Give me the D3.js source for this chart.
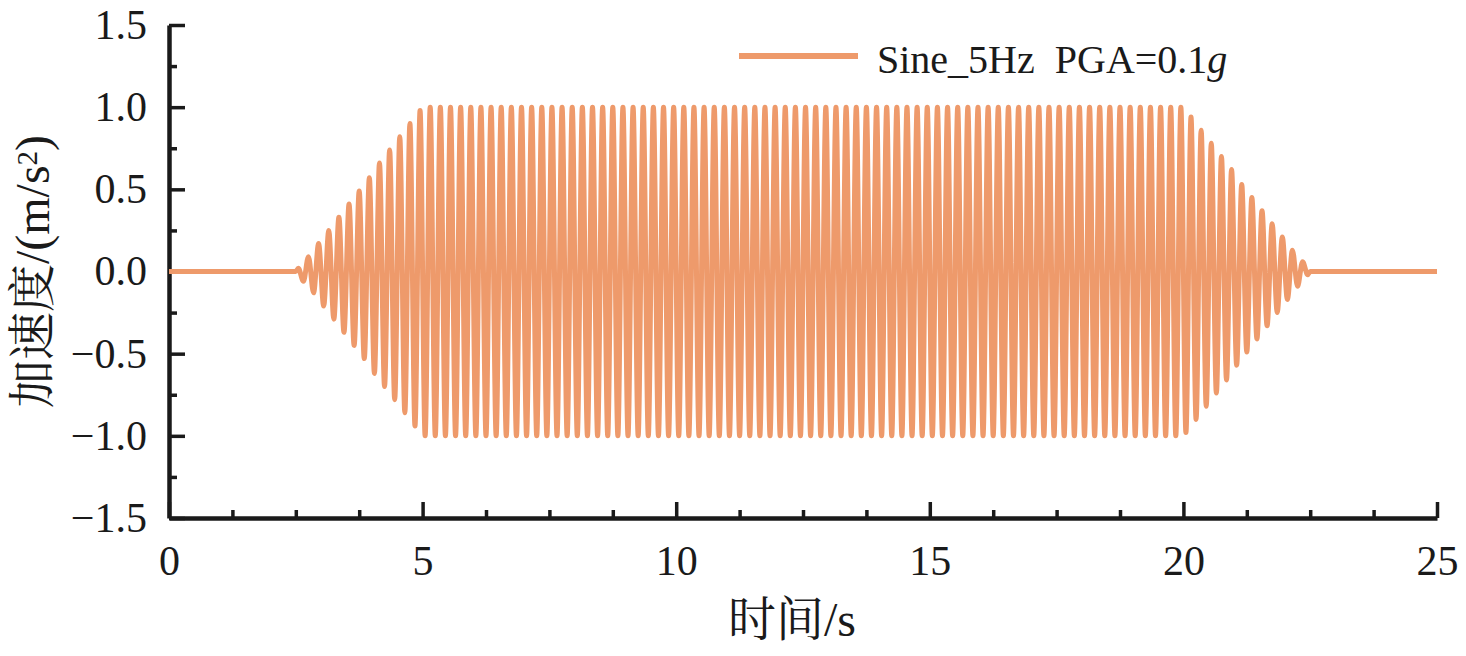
<!DOCTYPE html>
<meta charset="utf-8">
<style>
body { margin: 0; background: #fff; }
svg text { font-family: "Liberation Serif", "Noto Serif CJK SC", "Noto Sans CJK SC", serif; fill: #1a1a1a; }
.axis path, .axis line { stroke: #1a1a1a; }
</style>
<body>
<script src="https://d3js.org/d3.v7.min.js"></script>
<script>

// tick values
var xTicks = [0, 5, 10, 15, 20, 25];
var xMinor = [1.25, 2.5, 3.75, 6.25, 7.5, 8.75, 11.25, 12.5, 13.75, 16.25, 17.5, 18.75, 21.25, 22.5, 23.75];
var yTicks = [-1.5, -1.0, -0.5, 0.0, 0.5, 1.0, 1.5];
var yMinor = [-1.25, -0.75, -0.25, 0.25, 0.75, 1.25];

// signal: quiet, 5 Hz sine 2.5 s - 22.5 s, quiet
var quietBefore = [[0, 0], [2.5, 0]];
var quietAfter = [[22.5, 0], [25, 0]];
var firstPeakTime = 2.55;  // s
var halfPeriod = 0.1;      // s (5 Hz)
// successive extremes (2.5 s - 5 s)
var rampUp = [0.02, -0.06, 0.09, -0.13, 0.17, -0.21, 0.25, -0.29, 0.33, -0.37, 0.41, -0.45,
              0.49, -0.53, 0.57, -0.62, 0.66, -0.70, 0.74, -0.78, 0.82, -0.86, 0.90, -0.94, 0.98];
// steady part 5 s - 20 s
var plateauAmp = 1.0;
var plateauHalfCycles = 150;
// successive extremes (20 s - 22.5 s)
var rampDown = [-0.98, 0.94, -0.90, 0.86, -0.82, 0.78, -0.74, 0.70, -0.66, 0.62, -0.57, 0.53,
                -0.49, 0.45, -0.41, 0.37, -0.33, 0.29, -0.25, 0.21, -0.17, 0.13, -0.09, 0.06, -0.02];

var legendLabel = "Sine_5Hz  PGA=0.1";
var lineColor = "#ee9a6b";

var W = 1466, H = 656;
var margin = {top: 25, right: 29, bottom: 138, left: 169},
    width = W - margin.left - margin.right,
    height = H - margin.top - margin.bottom;

var x = d3.scaleLinear().domain([0, 25]).range([0, width]);
var y = d3.scaleLinear().domain([-1.5, 1.5]).range([height, 0]);

var svg = d3.select("body").append("svg")
    .attr("width", W)
    .attr("height", H)
  .append("g")
    .attr("transform", "translate(" + margin.left + "," + margin.top + ")");

// minor ticks
svg.append("g")
    .attr("class", "axis")
    .attr("transform", "translate(0," + height + ")")
    .call(d3.axisBottom(x).tickValues(xMinor).tickSize(-8).tickFormat(""))
    .call(function(g) { g.select(".domain").remove(); })
    .selectAll("line").attr("stroke-width", 3.5);
svg.append("g")
    .attr("class", "axis")
    .call(d3.axisLeft(y).tickValues(yMinor).tickSize(-8).tickFormat(""))
    .call(function(g) { g.select(".domain").remove(); })
    .selectAll("line").attr("stroke-width", 3.5);

// major axes
var xAxis = svg.append("g")
    .attr("class", "axis")
    .attr("transform", "translate(0," + height + ")")
    .call(d3.axisBottom(x).tickValues(xTicks).tickSize(-16).tickSizeOuter(0).tickPadding(27).tickFormat(d3.format("d")));
xAxis.select(".domain").attr("stroke-width", 4.5);
xAxis.selectAll("line").attr("stroke-width", 3.5);
xAxis.selectAll("text").style("font-size", "42px");

var yAxis = svg.append("g")
    .attr("class", "axis")
    .call(d3.axisLeft(y).tickValues(yTicks).tickSize(-16).tickSizeOuter(0).tickPadding(22).tickFormat(d3.format(".1f")));
yAxis.select(".domain").attr("stroke-width", 4.5);
yAxis.selectAll("line").attr("stroke-width", 3.5);
yAxis.selectAll("text").style("font-size", "42px");

// build the extremes list
var extremes = rampUp.slice();
for (var i = 0; i < plateauHalfCycles; i++) {
  extremes.push(i % 2 == 0 ? -plateauAmp : plateauAmp);
}
extremes = extremes.concat(rampDown);

var pts = quietBefore.slice();
extremes.forEach(function(v, i) { pts.push([firstPeakTime + i * halfPeriod, v]); });
pts = pts.concat(quietAfter);

var line = d3.line()
    .x(function(d) { return x(d[0]); })
    .y(function(d) { return y(d[1]); })
    .curve(d3.curveMonotoneX);

// signal drawn over the axes
svg.append("path")
    .datum(pts)
    .attr("fill", "none")
    .attr("stroke", lineColor)
    .attr("stroke-width", 5)
    .attr("stroke-linejoin", "round")
    .attr("d", line);

// axis titles
svg.append("text")
    .attr("x", 623)
    .attr("y", 611)
    .attr("text-anchor", "middle")
    .style("font-size", "48px")
    .text("时间/s");

var yt = svg.append("text")
    .attr("transform", "translate(-120," + y(0) + ") rotate(-90)")
    .attr("text-anchor", "middle")
    .style("font-size", "48px");
yt.append("tspan").text("加速度/(m/s");
yt.append("tspan").attr("dy", "-0.4em").style("font-size", "29px").text("2");
yt.append("tspan").attr("dy", "0.25em").text(")");

// legend
var lg = svg.append("g").attr("transform", "translate(570,31)");
lg.append("line")
    .attr("x1", 0).attr("x2", 119)
    .attr("stroke", lineColor)
    .attr("stroke-width", 6);
var lt = lg.append("text")
    .attr("x", 138)
    .attr("y", 17)
    .style("font-size", "40px")
    .attr("xml:space", "preserve");
lt.append("tspan").text(legendLabel);
lt.append("tspan").style("font-style", "italic").text("g");

</script>
</body>
